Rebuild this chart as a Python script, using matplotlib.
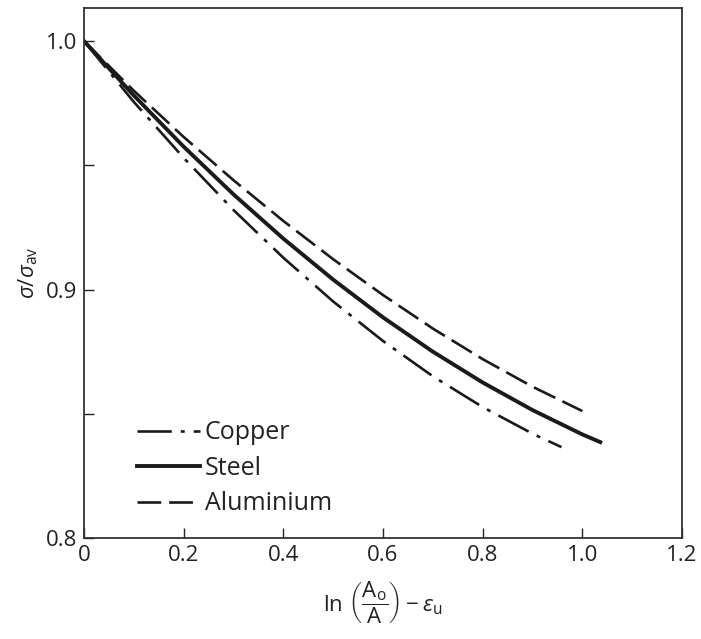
import matplotlib
matplotlib.use("Agg")
import matplotlib.pyplot as plt

plt.rcParams['font.family'] = ['Open Sans', 'DejaVu Sans']
plt.rcParams['mathtext.fontset'] = 'custom'
plt.rcParams['mathtext.rm'] = 'Open Sans'
plt.rcParams['mathtext.it'] = 'Open Sans:italic'

# Data
steel_x = [0, 0.1, 0.2, 0.3, 0.4, 0.5, 0.6, 0.7, 0.8, 0.9, 1.0, 1.036]
steel_y = [1.0, 0.9781, 0.9575, 0.9383, 0.9205, 0.9040, 0.8888, 0.8750, 0.8626, 0.8515, 0.8417, 0.8386]

alu_x = [0, 0.1, 0.2, 0.3, 0.4, 0.5, 0.6, 0.7, 0.8, 0.9, 1.0]
alu_y = [1.0, 0.9800, 0.9614, 0.9440, 0.9276, 0.9122, 0.8978, 0.8843, 0.8720, 0.8609, 0.8511]

cu_x = [0, 0.1, 0.2, 0.3, 0.4, 0.5, 0.6, 0.7, 0.8, 0.9, 0.958]
cu_y = [1.0, 0.9755, 0.9530, 0.9320, 0.9128, 0.8952, 0.8793, 0.8651, 0.8527, 0.8420, 0.8366]

x_ticks = [0, 0.2, 0.4, 0.6, 0.8, 1.0, 1.2]
x_ticklabels = ['0', '0.2', '0.4', '0.6', '0.8', '1.0', '1.2']
y_ticks = [0.8, 0.85, 0.9, 0.95, 1.0]
y_ticklabels = ['0.8', '', '0.9', '', '1.0']

fig = plt.figure(figsize=(7.01, 6.39), dpi=100)
ax = fig.add_axes([0.1198, 0.158, 0.8531, 0.8295])

ax.plot(cu_x, cu_y, color='#1a1a1a', lw=1.9, dashes=(13, 3.4, 1.5, 3.4), label='Copper')
ax.plot(steel_x, steel_y, color='#1a1a1a', lw=2.8, label='Steel')
ax.plot(alu_x, alu_y, color='#1a1a1a', lw=1.9, dashes=(9, 3), label='Aluminium')

ax.set_xlim(0, 1.2)
ax.set_ylim(0.8, 1.0133)
ax.set_xticks(x_ticks)
ax.set_xticklabels(x_ticklabels)
ax.set_yticks(y_ticks)
ax.set_yticklabels(y_ticklabels)
ax.tick_params(direction='in', length=7, width=1, labelsize=16, colors='#222222', pad=5)

for s in ax.spines.values():
    s.set_linewidth(1.3)
    s.set_color('#333333')

ax.set_ylabel(r'$\sigma/\sigma_{\mathrm{av}}$', fontsize=16, color='#222222', labelpad=4)
ax.set_xlabel(r'$\mathrm{ln}\ \left(\dfrac{\mathrm{A_o}}{\mathrm{A}}\right) - \varepsilon_{\mathrm{u}}$',
              fontsize=16, color='#222222', labelpad=10)

leg = ax.legend(loc='upper left', bbox_to_anchor=(0.089, 0.222), frameon=False,
                fontsize=18, handlelength=2.5, handletextpad=0.2,
                labelspacing=0.42, borderpad=0, borderaxespad=0)
for t in leg.get_texts():
    t.set_color('#222222')

fig.savefig('out.png', dpi=100)
